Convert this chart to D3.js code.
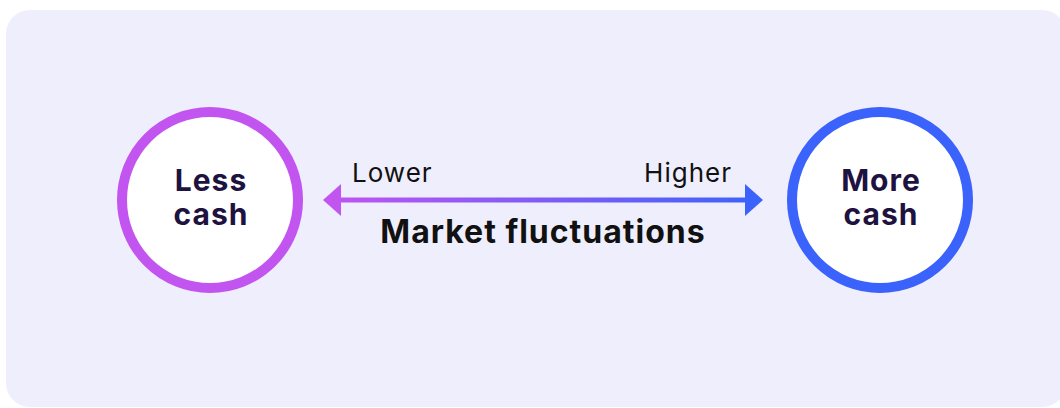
<!DOCTYPE html>
<html>
<head>
<meta charset="utf-8">
<script src="https://cdn.jsdelivr.net/npm/d3@7"></script>
<style>
  body { margin: 0; background: #fff; }
  svg { display: block; font-family: Inter, "Noto Sans", sans-serif; }
</style>
</head>
<body>
<svg id="chart"></svg>
<script>
// Data
const nodes = [["Less", "cash"], ["More", "cash"]]
const nodeColors = ['#c254f0', '#3b63fb']
const ends = ['Lower', 'Higher']
const axisTitle = 'Market fluctuations'

const width = 1060
const height = 408

const svg = d3.select('#chart')
    .attr('width', width)
    .attr('height', height)

// background panel
svg.append('rect')
    .attr('x', 6)
    .attr('y', 10)
    .attr('width', 1060)
    .attr('height', 397)
    .attr('rx', 24)
    .attr('fill', '#efeefc')

// Scales
let xScale = d3.scalePoint()
    .domain(d3.range(nodes.length))
    .range([210, 880])
let yMid = 200
let r = 88

// gradient for the arrow
let defs = svg.append('defs')
let grad = defs.append('linearGradient')
    .attr('id', 'arrowGrad')
    .attr('gradientUnits', 'userSpaceOnUse')
    .attr('x1', 323).attr('x2', 763)
    .attr('y1', 0).attr('y2', 0)
grad.selectAll('stop')
    .data(nodeColors)
    .enter()
    .append('stop')
    .attr('offset', (d, i) => i)
    .attr('stop-color', d => d)

// arrow
let x0 = xScale(0) + r + 25
let x1 = xScale(1) - r - 29
svg.append('line')
    .attr('x1', x0 + 10).attr('x2', x1 - 10)
    .attr('y1', yMid).attr('y2', yMid)
    .attr('stroke', 'url(#arrowGrad)')
    .attr('stroke-width', 5)

svg.append('path')
    .attr('d', `M${x0},${yMid} L${x0 + 18},${yMid - 16} L${x0 + 18},${yMid + 16} Z`)
    .attr('fill', nodeColors[0])
svg.append('path')
    .attr('d', `M${x1},${yMid} L${x1 - 18},${yMid - 16} L${x1 - 18},${yMid + 16} Z`)
    .attr('fill', nodeColors[1])

// end labels
svg.selectAll('.endLabel')
    .data(ends)
    .enter()
    .append('text')
    .attr('class', 'endLabel')
    .attr('x', (d, i) => i === 0 ? x0 + 29 : x1 - 31)
    .attr('y', yMid - 18)
    .attr('text-anchor', (d, i) => i === 0 ? 'start' : 'end')
    .attr('font-size', 26)
    .attr('letter-spacing', 1)
    .attr('fill', '#111')
    .text(d => d)

svg.append('text')
    .attr('x', (x0 + x1) / 2)
    .attr('y', yMid + 43)
    .attr('text-anchor', 'middle')
    .attr('font-size', 32)
    .attr('font-weight', 700)
    .attr('letter-spacing', 1)
    .attr('fill', '#111')
    .text(axisTitle)

// circles
let g = svg.selectAll('.node')
    .data(nodes)
    .enter()
    .append('g')
    .attr('class', 'node')
    .attr('transform', (d, i) => `translate(${xScale(i)}, ${yMid})`)

g.append('circle')
    .attr('r', r)
    .attr('fill', '#fff')
    .attr('stroke', (d, i) => nodeColors[i])
    .attr('stroke-width', 10)

g.selectAll('text')
    .data(d => d)
    .enter()
    .append('text')
    .attr('x', 1)
    .attr('y', (d, i) => i === 0 ? -9 : 25)
    .attr('text-anchor', 'middle')
    .attr('font-size', 30)
    .attr('font-weight', 700)
    .attr('letter-spacing', 1)
    .attr('fill', '#1e1240')
    .text(d => d)
</script>
</body>
</html>
